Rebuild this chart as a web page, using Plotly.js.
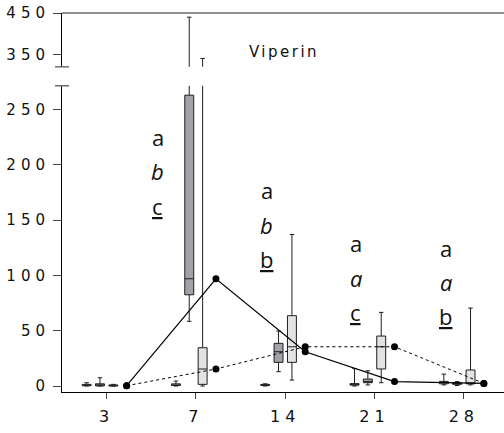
<!DOCTYPE html>
<html>
<head>
<meta charset="utf-8">
<script src="https://cdn.plot.ly/plotly-3.0.1.min.js"></script>
<style>
  html, body { margin: 0; padding: 0; background: #fff; }
  #chart { width: 504px; height: 433px; }
  .xtick text, .ytick text, .y2tick text { letter-spacing: 5px; }
  .gtitle { letter-spacing: 2.5px; }
</style>
</head>
<body>
<div id="chart"></div>
<script>
// ---- data ----
const days = ['3', '7', '14', '21', '28'];

// series 1 (white boxes)
const s1Low = [0, 0, 0, 0, 1];
const s1Q1 = [0.3, 0.5, 0.5, 0.8, 2];
const s1Med = [0.8, 1, 1, 1.5, 3];
const s1Q3 = [1.5, 2, 1.5, 2.2, 4.2];
const s1High = [3, 4.5, 2, 15.7, 10.8];

// series 2 (dark grey boxes)
const s2Low = [0, 58.5, 13, 1, 0.5];
const s2Q1 = [0.1, 82.5, 21.4, 3, 1.5];
const s2Med = [0.3, 97, 31, 4, 2.4];
const s2Q3 = [2, 263, 38.6, 6.3, 3];
const s2High = [7.5, 440, 49.7, 13.8, 4];

// series 3 (light grey boxes)
const s3Low = [0, 0, 5.4, 3, 1];
const s3Q1 = [0.1, 1.5, 21.4, 15.4, 2];
const s3Med = [0.3, 15.4, 35.5, 35.5, 2.4];
const s3Q3 = [1, 34.6, 63.6, 45.2, 14.5];
const s3High = [1.5, 341, 137, 66.6, 70.5];

// significance letters for days 7, 14, 21, 28
const letterDays = ['7', '14', '21', '28'];
const lettersRow1 = ['a', 'a', 'a', 'a'];
const lettersRow2 = ['b', 'b', 'a', 'a'];
const lettersRow3 = ['c', 'b', 'c', 'b'];

const chartTitle = 'Viperin';

// ---- layout helpers (positions / styles) ----
const idx = days.map((d, i) => i);
const boxOffsets = [-0.224, -0.075, 0.075];
const lineOffset = 0.224;
const boxWidth = 0.1;
const fills = ['#ffffff', '#a3a2a8', '#e3e3e3'];
const letterXOffset = [-0.426, -0.209, -0.209, -0.201];
const letterTopY = [225, 177, 129, 125];
const letterStep = 31;

const series = [
  [s1Low, s1Q1, s1Med, s1Q3, s1High],
  [s2Low, s2Q1, s2Med, s2Q3, s2High],
  [s3Low, s3Q1, s3Med, s3Q3, s3High]
];

const traces = [];
['y', 'y2'].forEach(ax => {
  series.forEach((s, k) => {
    traces.push({
      type: 'box',
      x: idx.map(i => i + boxOffsets[k]),
      lowerfence: s[0], q1: s[1], median: s[2], q3: s[3], upperfence: s[4],
      width: boxWidth,
      whiskerwidth: 0.5,
      fillcolor: fills[k],
      line: { color: '#1e1e1e', width: 1 },
      yaxis: ax,
      xaxis: 'x',
      showlegend: false,
      hoverinfo: 'skip'
    });
  });
});

traces.push({
  type: 'scatter', mode: 'lines+markers',
  x: idx.map(i => i + lineOffset), y: s2Med,
  line: { color: '#000', width: 1.2 },
  marker: { color: '#000', size: 7 },
  showlegend: false, hoverinfo: 'skip', cliponaxis: false
});
traces.push({
  type: 'scatter', mode: 'lines+markers',
  x: idx.map(i => i + lineOffset), y: s3Med,
  line: { color: '#000', width: 1, dash: 'dot' },
  marker: { color: '#000', size: 7 },
  showlegend: false, hoverinfo: 'skip', cliponaxis: false
});

const annotations = [];
letterDays.forEach((d, g) => {
  const xi = days.indexOf(d) + letterXOffset[g];
  const rows = [lettersRow1[g], '<i>' + lettersRow2[g] + '</i>', '<u>' + lettersRow3[g] + '</u>'];
  rows.forEach((t, r) => {
    annotations.push({
      x: xi, y: letterTopY[g] - r * letterStep, xref: 'x', yref: 'y',
      text: t, showarrow: false,
      font: { family: 'Open Sans', size: 22, color: '#111' },
      xanchor: 'center', yanchor: 'middle'
    });
  });
});

const tickFont = { family: 'DejaVu Sans', size: 15, color: '#111' };

const layout = {
  width: 504, height: 433,
  margin: { l: 62, r: 0, t: 13, b: 41 },
  paper_bgcolor: '#fff', plot_bgcolor: 'rgba(0,0,0,0)',
  showlegend: false,
  title: {
    text: chartTitle,
    x: 284 / 504, xref: 'container', xanchor: 'center',
    y: 1 - 51.7 / 433, yref: 'container', yanchor: 'middle',
    font: { family: 'DejaVu Sans', size: 15, color: '#111' }
  },
  xaxis: {
    range: [-0.5, 4.45],
    tickvals: idx, ticktext: days,
    showgrid: false, zeroline: false,
    showline: true, linecolor: '#000', linewidth: 1,
    ticks: 'outside', ticklen: 6, tickcolor: '#444',
    tickfont: { family: 'DejaVu Sans', size: 16, color: '#111' },
    ticklabelstandoff: 4,
    anchor: 'y'
  },
  yaxis: {
    domain: [0, 0.808],
    range: [-5.4, 271.5],
    tickvals: [0, 50, 100, 150, 200, 250],
    showgrid: false, zeroline: false,
    showline: true, linecolor: '#000', linewidth: 1,
    ticks: 'outside', ticklen: 8, tickcolor: '#444',
    tickfont: tickFont
  },
  yaxis2: {
    domain: [0.858, 1],
    range: [321, 450],
    tickvals: [350, 450],
    showgrid: false, zeroline: false,
    showline: true, linecolor: '#000', linewidth: 1,
    ticks: 'outside', ticklen: 8, tickcolor: '#444',
    tickfont: tickFont,
    anchor: 'x'
  },
  shapes: [
    { type: 'line', xref: 'paper', yref: 'y2 domain', x0: 0, x1: 1, y0: 1, y1: 1,
      line: { color: '#6e6e6e', width: 1.5 } },
    { type: 'line', xref: 'paper', yref: 'y2 domain', x0: -0.016, x1: 0.016, y0: 0, y1: 0,
      line: { color: '#6e6e6e', width: 1.5 } },
    { type: 'line', xref: 'paper', yref: 'y domain', x0: -0.016, x1: 0.016, y0: 1, y1: 1,
      line: { color: '#6e6e6e', width: 1.5 } }
  ],
  annotations: annotations
};

Plotly.newPlot('chart', traces, layout, { displayModeBar: false, staticPlot: true });
</script>
</body>
</html>
